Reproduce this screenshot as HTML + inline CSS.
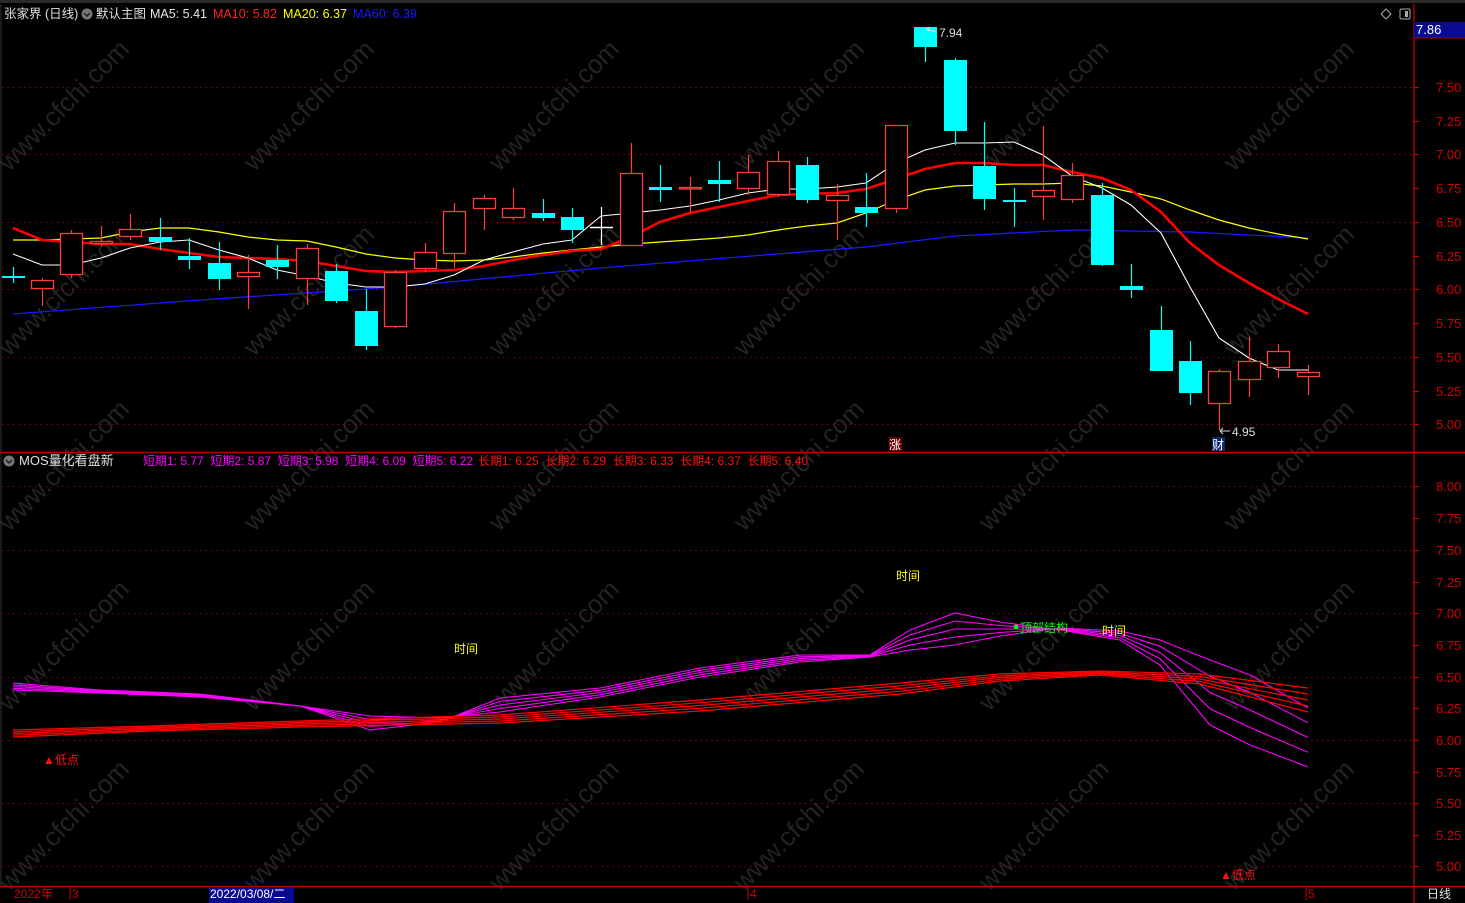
<!DOCTYPE html>
<html><head><meta charset="utf-8"><style>
html,body{margin:0;padding:0;background:#000;width:1465px;height:903px;overflow:hidden}
svg{display:block}
text{font-family:"Liberation Sans","Noto Sans CJK SC",sans-serif}
</style></head><body>
<svg id="s" width="1465" height="903" viewBox="0 0 1465 903" xmlns="http://www.w3.org/2000/svg">
<rect width="1465" height="903" fill="#000"/>
<rect x="0" y="0" width="1465" height="3" fill="#2a2a2a"/>
<g id="wm" fill="#232323" font-size="26"></g>
<g id="grid" stroke="#8a0000" stroke-dasharray="1.5,4" stroke-width="1"></g>
<g id="ma"></g>
<g id="cd"></g>
<g id="low"></g>
<line x1="1414" y1="4" x2="1414" y2="903" stroke="#b00000" stroke-width="1.5"/>
<line x1="0" y1="452.5" x2="1465" y2="452.5" stroke="#b00000" stroke-width="1.5"/>
<line x1="0" y1="886.5" x2="1465" y2="886.5" stroke="#b00000" stroke-width="1.5"/>
<line x1="1" y1="4" x2="1" y2="886" stroke="#333" stroke-width="1"/>
<g id="ax" fill="#d00000" font-size="13"></g>
<text x="4" y="18" font-size="12.5" fill="#e0e0e0">张家界 (日线)</text>
<circle cx="87" cy="14" r="5.5" fill="#777"/><path d="M84,13 l3,3 l3,-3" stroke="#222" stroke-width="1.5" fill="none"/>
<text x="96" y="18" font-size="12.5" fill="#e0e0e0">默认主图</text>
<text x="150" y="18" font-size="12.5" fill="#e8e8e8">MA5: 5.41</text>
<text x="213" y="18" font-size="12.5" fill="#ff2020">MA10: 5.82</text>
<text x="283" y="18" font-size="12.5" fill="#ffff00">MA20: 6.37</text>
<text x="353" y="18" font-size="12.5" fill="#1a1aff">MA60: 6.39</text>
<path d="M1386,9 l5,5 l-5,5 l-5,-5z" stroke="#aaa" fill="none"/>
<rect x="1400" y="9" width="10" height="10" rx="1.5" stroke="#aaa" fill="none"/><rect x="1405" y="11" width="3" height="6" fill="#aaa"/>
<rect x="1414" y="22" width="51" height="16" fill="#0a0a90"/>
<line x1="1414" y1="38" x2="1465" y2="38" stroke="#b00000"/>
<text x="1416" y="34" font-size="13" fill="#fff">7.86</text>
<circle cx="9" cy="461" r="5.5" fill="#777"/><path d="M6,460 l3,3 l3,-3" stroke="#222" stroke-width="1.5" fill="none"/>
<text x="19" y="465" font-size="13" fill="#e0e0e0">MOS量化看盘新</text>
<text x="143" y="465" font-size="12" fill="#ff00ff" xml:space="preserve">短期1: 5.77  短期2: 5.87  短期3: 5.98  短期4: 6.09  短期5: 6.22</text>
<text x="478" y="465" font-size="12" fill="#ff1010" xml:space="preserve">长期1: 6.25  长期2: 6.29  长期3: 6.33  长期4: 6.37  长期5: 6.40</text>
<text x="939" y="37" font-size="12" fill="#ddd">7.94</text>
<path d="M936,32 l-9,-3 m0,0 l3,-2 m-3,2 l2,3" stroke="#ddd" fill="none"/>
<text x="1232" y="436" font-size="12" fill="#ddd">4.95</text>
<path d="M1230,431 h-10 m0,0 l3,-3 m-3,3 l3,3" stroke="#ddd" fill="none"/>
<rect x="889" y="437" width="13" height="14" fill="#6a0000"/><text x="889" y="449" font-size="12" fill="#fff">涨</text>
<rect x="1212" y="437" width="13" height="14" fill="#0a2a6a"/><text x="1212" y="449" font-size="12" fill="#fff">财</text>
<text x="896" y="580" font-size="12" fill="#ffff00">时间</text>
<text x="454" y="653" font-size="12" fill="#ffff00">时间</text>
<text x="1102" y="635" font-size="12" fill="#ffff00">时间</text>
<circle cx="1016" cy="627" r="2.5" fill="#00ff00"/>
<text x="1020" y="632" font-size="12" fill="#00ff00">顶部结构</text>
<text x="43" y="764" font-size="12" fill="#ff1010">▲低点</text>
<text x="1220" y="879" font-size="12" fill="#ff1010">▲低点</text>
<text x="14" y="898" font-size="12" fill="#d00000">2022年</text>
<line x1="70" y1="888" x2="70" y2="900" stroke="#d00000"/><text x="72" y="898" font-size="12" fill="#d00000">3</text>
<rect x="209" y="887" width="85" height="16" fill="#0a0a90"/>
<text x="210" y="898" font-size="12" fill="#fff">2022/03/08/二</text>
<line x1="748" y1="888" x2="748" y2="900" stroke="#d00000"/><text x="750" y="898" font-size="12" fill="#d00000">4</text>
<line x1="1306" y1="888" x2="1306" y2="900" stroke="#d00000"/><text x="1308" y="898" font-size="12" fill="#d00000">5</text>
<text x="1427" y="898" font-size="12" fill="#e0e0e0">日线</text>
</svg>
<script>
var NS="http://www.w3.org/2000/svg";
function el(p,t,a){var e=document.createElementNS(NS,t);for(var k in a)e.setAttribute(k,a[k]);p.appendChild(e);return e;}
var g=document.getElementById('grid');
[87,154,222,289,357,424,486,550,613,677,740,803,866].forEach(function(y){el(g,'line',{x1:2,y1:y+.5,x2:1414,y2:y+.5});});
var ax=document.getElementById('ax');
var tp=[["7.50",87],["7.25",121],["7.00",154],["6.75",188],["6.50",222],["6.25",256],["6.00",289],["5.75",323],["5.50",357],["5.25",391],["5.00",424]];
var bt=[["8.00",486],["7.75",518],["7.50",550],["7.25",582],["7.00",613],["6.75",645],["6.50",677],["6.25",708],["6.00",740],["5.75",772],["5.50",803],["5.25",835],["5.00",866]];
tp.concat(bt).forEach(function(a){el(ax,'line',{x1:1414,y1:a[1]+.5,x2:1419,y2:a[1]+.5,stroke:'#d00000'});var t=el(ax,'text',{x:1436,y:a[1]+5});t.textContent=a[0];});
var wm=document.getElementById('wm');
[110,295,470,650,830].forEach(function(y){[60,305,550,795,1040,1285].forEach(function(x){var t=el(wm,'text',{x:x-80,y:y+8,transform:'rotate(-45 '+x+' '+y+')'});t.textContent='www.cfchi.com';});});
var C=[[13,267,276,278,283,'c'],[42,278,280,288,306,'r'],[71,230,233,274,278,'r'],[101,226,241,243,246,'r'],[130,214,229,236,240,'r'],[160,218,237,242,250,'c'],[189,238,256,260,269,'c'],[219,242,263,279,290,'c'],[248,255,272,276,309,'r'],[277,245,260,267,279,'c'],[307,244,248,278,305,'r'],[336,264,271,301,303,'c'],[366,289,311,346,350,'c'],[395,270,272,326,328,'r'],[425,243,252,268,272,'r'],[454,203,211,253,268,'r'],[484,195,198,208,230,'r'],[513,188,208,217,220,'r'],[543,199,213,218,221,'c'],[572,208,217,230,243,'c'],[601,207,227,228,245,'w'],[631,143,173,245,246,'r'],[660,165,187,190,202,'c'],[690,177,187,188,213,'r'],[719,161,180,184,202,'c'],[748,155,172,188,195,'r'],[778,151,161,194,197,'r'],[807,157,165,200,203,'c'],[837,184,195,200,240,'r'],[866,173,207,213,227,'c'],[896,125,125,208,213,'r'],[925,27,27,47,62,'c'],[955,58,60,131,145,'c'],[984,122,166,199,210,'c'],[1014,188,200,202,227,'c'],[1043,126,190,196,220,'r'],[1072,163,175,199,203,'r'],[1102,183,195,265,266,'c'],[1131,264,286,290,298,'c'],[1161,306,330,371,371,'c'],[1190,341,361,393,405,'c'],[1219,369,371,403,430,'r'],[1249,337,361,379,397,'r'],[1278,344,351,367,378,'r'],[1308,365,372,376,395,'r']];
var cd=document.getElementById('cd');
C.forEach(function(c){var x=c[0],col=c[5]=='c'?'#00ffff':c[5]=='r'?'#ff3c3c':'#fff';
el(cd,'line',{x1:x+.5,y1:c[1],x2:x+.5,y2:c[4],stroke:col,'stroke-width':1.2});
var h=Math.max(c[3]-c[2],1.5);
if(c[5]=='c'){el(cd,'rect',{x:x-11,y:c[2],width:23,height:h,fill:col});}
else if(c[5]=='w'){el(cd,'line',{x1:x-11,y1:c[2]+.5,x2:x+12,y2:c[2]+.5,stroke:col,'stroke-width':1.5});}
else{el(cd,'rect',{x:x-10.5,y:c[2]+.5,width:22,height:h,fill:'#000',stroke:col,'stroke-width':1.3});}});
var ma=document.getElementById('ma');
function pl(p,col,w,par){el(par||ma,'polyline',{points:p.map(function(a){return a.join(',')}).join(' '),fill:'none',stroke:col,'stroke-width':w});}
pl([[13,314],[200,300],[395,287],[600,268],[866,247],[955,236],[1072,230],[1190,232],[1308,238]],'#1a1aff',1.3);
pl([[13,240],[42,240],[71,239],[101,238],[130,232],[160,228],[189,228],[219,232],[248,237],[277,240],[307,241],[336,247],[366,254],[395,258],[425,260],[454,261],[484,260],[513,257],[543,253],[572,250],[601,247],[631,244],[660,242],[690,240],[719,238],[748,235],[778,230],[807,226],[837,223],[866,213],[896,200],[925,190],[955,186],[984,185],[1014,184],[1043,184],[1072,183],[1102,186],[1131,192],[1161,199],[1190,210],[1219,220],[1249,228],[1278,234],[1308,239]],'#ffff00',1.2);
pl([[13,228],[42,240],[71,242],[101,244],[130,244],[160,249],[189,253],[219,257],[248,258],[277,259],[307,261],[336,266],[366,271],[395,272],[425,271],[454,270],[484,266],[513,260],[543,255],[572,251],[601,249],[631,237],[660,222],[690,213],[719,207],[748,201],[778,195],[807,194],[837,193],[866,189],[896,179],[925,169],[955,163],[984,163],[1014,165],[1043,165],[1072,172],[1102,178],[1131,190],[1161,212],[1190,243],[1219,265],[1249,283],[1278,299],[1308,314]],'#ff0000',2.6);
pl([[13,254],[42,265],[71,265],[101,258],[130,248],[160,242],[189,240],[219,250],[248,258],[277,270],[307,276],[336,283],[366,287],[395,287],[425,284],[454,275],[484,260],[513,252],[543,244],[572,240],[601,216],[631,213],[660,210],[690,206],[719,200],[748,193],[778,189],[807,189],[837,187],[866,183],[896,163],[925,150],[955,143],[984,143],[1014,142],[1043,155],[1072,176],[1102,188],[1131,205],[1161,233],[1190,287],[1219,338],[1249,358],[1278,370],[1308,370]],'#ffffff',1.1);
var low=document.getElementById('low');
var xs=[13,100,200,300,370,440,500,600,700,800,870,910,955,1000,1060,1120,1160,1210,1250,1308];
var s1=[690,693,697,706,730,722,698,688,668,655,655,630,613,622,630,640,665,725,745,767];
var s5=[683,690,694,706,716,718,712,697,677,662,657,650,645,636,628,631,640,660,675,708];
for(var i=0;i<5;i++){var f=i/4;var p=xs.map(function(x,k){return [x,(s1[k]*(1-f)+s5[k]*f).toFixed(1)];});pl(p,'#ff00ff',1.1,low);}
var rx=[13,150,300,500,700,900,1000,1100,1200,1308];
var r0=[737,731,727,723,711,694,681,675,684,712];
var r4=[730,726,721,715,700,683,674,671,674,688];
for(var i=0;i<5;i++){var f=i/4;var p=rx.map(function(x,k){return [x,(r0[k]*(1-f)+r4[k]*f).toFixed(1)];});pl(p,'#ff0000',1.2,low);}
</script>
</body></html>
